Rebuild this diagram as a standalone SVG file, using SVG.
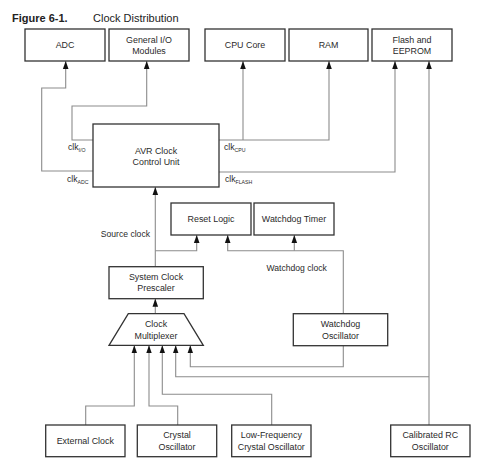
<svg xmlns="http://www.w3.org/2000/svg" width="480" height="465" viewBox="0 0 480 465">
<defs>
<marker id="ah" markerUnits="userSpaceOnUse" markerWidth="8" markerHeight="8" viewBox="0 0 8 8" refX="8" refY="4" orient="auto">
<path d="M0,1.2 L8,4 L0,6.8 Z" fill="#111"/>
</marker>
<style>
.box{fill:#fff;stroke:#333;stroke-width:1.3}
.c{fill:none;stroke:#8c8c8c;stroke-width:1.1}
.t{font-family:"Liberation Sans",Arial,sans-serif;font-size:8.9px;fill:#2a2a2a;text-anchor:middle}
.l{font-family:"Liberation Sans",Arial,sans-serif;font-size:8.6px;fill:#2a2a2a}
.s{font-size:5.2px}
</style>
</defs>
<rect width="480" height="465" fill="#fff"/>
<text x="12" y="22" font-family="Liberation Sans,Arial,sans-serif" font-size="11" font-weight="bold" fill="#222">Figure 6-1.</text>
<text x="93" y="22" font-family="Liberation Sans,Arial,sans-serif" font-size="11" fill="#222">Clock Distribution</text>

<g id="connectors">
<path class="c" d="M93 171 H41.7 V88 H65.7 V61" marker-end="url(#ah)"/>
<path class="c" d="M93 140 H72 V106 H146.7 V61" marker-end="url(#ah)"/>
<path class="c" d="M219 140 H329 V61" marker-end="url(#ah)"/>
<path class="c" d="M243 140 V61" marker-end="url(#ah)"/>
<path class="c" d="M219 172 H395 V61" marker-end="url(#ah)"/>
<path class="c" d="M429 425 V61" marker-end="url(#ah)"/>
<path class="c" d="M429 376.7 H175.7 V345.3" marker-end="url(#ah)"/>
<path class="c" d="M155.3 266.7 V187" marker-end="url(#ah)"/>
<path class="c" d="M155.3 250.7 H196.7 V235" marker-end="url(#ah)"/>
<path class="c" d="M343.3 313.7 V250.7 H227.7 V235" marker-end="url(#ah)"/>
<path class="c" d="M294.3 250.7 V235" marker-end="url(#ah)"/>
<path class="c" d="M343.3 345.7 V366.7 H190.3 V345.3" marker-end="url(#ah)"/>
<path class="c" d="M155.3 313.7 V298.7" marker-end="url(#ah)"/>
<path class="c" d="M271.7 425 V394.3 H162.3 V345.3" marker-end="url(#ah)"/>
<path class="c" d="M177.7 425 V406 H149 V345.3" marker-end="url(#ah)"/>
<path class="c" d="M85.7 425 V406 H134.3 V345.3" marker-end="url(#ah)"/>
</g>

<g id="adc"><rect class="box" x="25" y="29" width="80" height="32"/><text class="t" x="65" y="48">ADC</text></g>
<g id="gio"><rect class="box" x="109" y="29" width="80" height="32"/><text class="t" x="149" y="42.5">General I/O</text><text class="t" x="149" y="54">Modules</text></g>
<g id="cpu"><rect class="box" x="205" y="29" width="80" height="32"/><text class="t" x="245" y="48">CPU Core</text></g>
<g id="ram"><rect class="box" x="289" y="29" width="79" height="32"/><text class="t" x="328.5" y="48">RAM</text></g>
<g id="flash"><rect class="box" x="372" y="29" width="80" height="32"/><text class="t" x="412" y="42.5">Flash and</text><text class="t" x="412" y="54">EEPROM</text></g>

<g id="avr"><rect class="box" x="93" y="124" width="126" height="63"/><text class="t" x="156" y="154">AVR Clock</text><text class="t" x="156" y="165">Control Unit</text></g>
<text class="l" x="68" y="150">clk<tspan class="s" dy="2">I/O</tspan></text>
<text class="l" x="67" y="182">clk<tspan class="s" dy="2">ADC</tspan></text>
<text class="l" x="224" y="150">clk<tspan class="s" dy="2">CPU</tspan></text>
<text class="l" x="225" y="182">clk<tspan class="s" dy="2">FLASH</tspan></text>

<text class="l" x="150" y="237" text-anchor="end">Source clock</text>
<text class="l" x="266.5" y="270.5">Watchdog clock</text>

<g id="reset"><rect class="box" x="171" y="203" width="80" height="32"/><text class="t" x="211" y="222">Reset Logic</text></g>
<g id="wdt"><rect class="box" x="254" y="203" width="80" height="32"/><text class="t" x="294" y="222">Watchdog Timer</text></g>
<g id="prescaler"><rect class="box" x="109" y="266.7" width="94.3" height="32"/><text class="t" x="156" y="280">System Clock</text><text class="t" x="156" y="291">Prescaler</text></g>
<g id="mux"><path class="box" d="M128.3 313.7 H184 L203.3 345.3 H109 Z"/><text class="t" x="156" y="327">Clock</text><text class="t" x="156" y="338.5">Multiplexer</text></g>
<g id="wdo"><rect class="box" x="293.3" y="313.7" width="94.4" height="32"/><text class="t" x="340.5" y="327">Watchdog</text><text class="t" x="340.5" y="338.5">Oscillator</text></g>

<g id="ext"><rect class="box" x="45.7" y="425" width="79.3" height="31.7"/><text class="t" x="85.3" y="443.8">External Clock</text></g>
<g id="crystal"><rect class="box" x="137.3" y="425" width="79.4" height="31.7"/><text class="t" x="177" y="438">Crystal</text><text class="t" x="177" y="449.5">Oscillator</text></g>
<g id="lfcrystal"><rect class="box" x="231.7" y="425" width="79.3" height="31.7"/><text class="t" x="271.3" y="438">Low-Frequency</text><text class="t" x="271.3" y="449.5">Crystal Oscillator</text></g>
<g id="rc"><rect class="box" x="390.7" y="425" width="79.3" height="31.7"/><text class="t" x="430.3" y="438">Calibrated RC</text><text class="t" x="430.3" y="449.5">Oscillator</text></g>
</svg>
